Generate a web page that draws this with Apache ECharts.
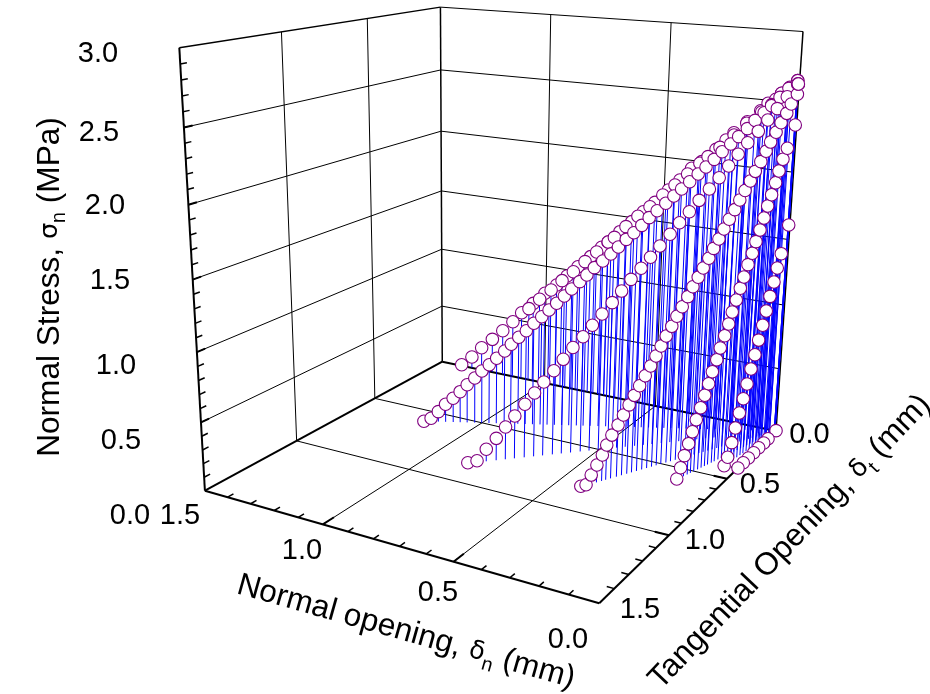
<!DOCTYPE html>
<html>
<head>
<meta charset="utf-8">
<script src="https://cdn.jsdelivr.net/npm/echarts@6/dist/echarts.min.js"></script>
<style>html,body{margin:0;padding:0;background:#fff}#main{width:930px;height:694px}</style>
</head>
<body>
<div id="main"></div>
<script>
// tick values
var snMajor = [0.5, 1, 1.5, 2, 2.5]
var snMinor = [0.1,0.2,0.3,0.4,0.6,0.7,0.8,0.9,1.1,1.2,1.3,1.4,1.6,1.7,1.8,1.9,2.1,2.2,2.3,2.4,2.6,2.7,2.8,2.9]
var openMajor = [0.5, 1]
var openMinor = [0.1,0.2,0.3,0.4,0.6,0.7,0.8,0.9,1.1,1.2,1.3,1.4]

// dt/dn = 0, first run: opening is dn
var pathAOpen = [1.402,1.351,1.303,1.251,1.201,1.153,1.112,1.058,1.005,.952,.906,.858,.803,.756,.729,.679,.630,.583,.536,.483,.438,.393,.354,.300,.263,.234,.185,.137,.111,.083,.063,.034,.007]
var pathASn = [.009,.098,.198,.291,.384,.479,.571,.669,.772,.858,.948,1.039,1.138,1.228,1.278,1.375,1.468,1.559,1.644,1.753,1.841,1.94,1.999,2.103,2.180,2.240,2.330,2.419,2.477,2.511,2.557,2.605,2.656]
// dt/dn = 0, second run
var pathBOpen = [1.078,1.029,.977,.928,.878,.827,.777,.728,.702,.654,.605,.556,.505,.457,.408,.361,.330,.285,.233,.187,.133,.097,.063,.033]
var pathBSn = [.617,.713,.808,.902,.992,1.090,1.184,1.279,1.323,1.422,1.517,1.605,1.709,1.798,1.893,1.985,2.042,2.121,2.223,2.318,2.41,2.47,2.557,2.598]
// dt/dn = 0.5
var pathCOpen = [1.200,1.175,1.150,1.125,1.099,1.075,1.051,1.025,1.001,.976,.951,.924,.902,.877,.852,.827,.801,.777,.752,.727,.703,.677,.654,.630,.603,.577,.553,.528,.504,.479,.456,.431,.404,.379,.355,.330,.304,.280,.255,.231,.205,.181,.155,.132,.105,.083,.058,.032,.006]
var pathCSn = [0,.026,.082,.144,.195,.250,.308,.364,.422,.474,.527,.587,.642,.699,.752,.812,.865,.919,.973,1.031,1.087,1.145,1.197,1.255,1.307,1.362,1.417,1.476,1.527,1.584,1.643,1.696,1.753,1.808,1.861,1.916,1.974,2.026,2.083,2.140,2.197,2.251,2.31,2.37,2.426,2.477,2.537,2.602,2.657]
// dt/dn = 1
var pathDOpen = [.849,.825,.801,.775,.751,.727,.701,.676,.652,.626,.602,.577,.551,.527,.502,.476,.452,.428,.402,.378,.354,.328,.304,.279,.254,.228,.203,.179,.155,.131,.104,.080,.056,.031,.005]
var pathDSn = [.004,.012,.093,.170,.250,.328,.410,.490,.567,.646,.726,.809,.884,.964,1.043,1.122,1.203,1.285,1.362,1.438,1.517,1.598,1.678,1.754,1.833,1.911,1.989,2.070,2.151,2.231,2.309,2.387,2.465,2.547,2.634]
// dn/dt = 0.5, opening is dt from here on
var pathEOpen = [.820,.800,.781,.760,.740,.724,.705,.682,.662,.641,.622,.602,.581,.561,.541,.522,.503,.482,.463,.443,.422,.403,.383,.364,.343,.325,.305,.286,.266,.245,.226,.206,.186,.167,.146,.126,.109,.088,.069,.047,.030,.006,.005]
var pathESn = [.005,.005,.067,.131,.195,.262,.326,.390,.454,.519,.581,.643,.707,.770,.835,.901,.966,1.029,1.095,1.157,1.223,1.288,1.350,1.411,1.474,1.540,1.601,1.668,1.732,1.795,1.859,1.922,1.985,2.049,2.113,2.182,2.244,2.309,2.373,2.435,2.498,2.562,2.635]
// dn/dt = 0.25
var pathFOpen = [.596,.577,.559,.538,.520,.501,.479,.459,.440,.422,.400,.383,.361,.341,.324,.304,.284,.266,.246,.224,.206,.186,.166,.148,.128,.108,.092,.072,.049,.009,.007]
var pathFSn = [.004,.077,.157,.234,.313,.392,.469,.551,.626,.706,.784,.862,.942,1.019,1.099,1.179,1.256,1.331,1.413,1.487,1.565,1.642,1.722,1.803,1.878,1.958,2.037,2.116,2.188,2.344,2.635]
// dn/dt = 0.125
var pathGOpen = [.401,.378,.353,.332,.308,.284,.262,.238,.214,.192,.167,.146,.124,.099,.080,.055,.010,.009]
var pathGSn = [0,.049,.145,.244,.344,.439,.538,.639,.734,.833,.932,1.029,1.129,1.225,1.322,1.418,1.614,2.636]
// dn = 0
var pathHOpen = [0,.087,.133,.186,.238,.292,.343,.395]
var pathHSn = [.003,0,0,.001,0,0,.001,0]

// [opening, stress, dn per opening, dt per opening]
var paths = [
    [pathAOpen, pathASn, 1, 0],
    [pathBOpen, pathBSn, 1, 0],
    [pathCOpen, pathCSn, 1, 0.5],
    [pathDOpen, pathDSn, 1, 1],
    [pathEOpen, pathESn, 0.5, 1],
    [pathFOpen, pathFSn, 0.25, 1],
    [pathGOpen, pathGSn, 0.125, 1],
    [pathHOpen, pathHSn, 0, 1]
]

// perspective projection, (dn, dt, sn) -> page position
function project(dn, dt, sn) {
    var u = dn / 1.5, v = dt / 1.5, w = sn / 3
    var W = 1 + 0.1321 * u - 0.2332 * v - 0.0802 * w
    return [(776 - 275.3 * u - 316.5 * v - 37.4 * w) / W, (431 - 21.5 * u + 31.6 * v - 402 * w) / W]
}

// box, grid lines and ticks
var frame = []
function seg(a, b, lw) { frame.push(a.concat(b).concat([lw])) }
seg([1.5,1.5,0],[0,1.5,0],2); seg([0,1.5,0],[0,0,0],2); seg([1.5,1.5,0],[1.5,0,0],2); seg([1.5,0,0],[0,0,0],2)
seg([1.5,1.5,0],[1.5,1.5,3],2); seg([1.5,0,0],[1.5,0,3],1.5); seg([0,0,0],[0,0,3],1.5)
seg([1.5,1.5,3],[1.5,0,3],1.5); seg([1.5,0,3],[0,0,3],1)
openMajor.forEach(function (t) {
    seg([t,1.5,0],[t,0,0],1); seg([1.5,t,0],[0,t,0],1)
    seg([1.5,t,0],[1.5,t,3],1); seg([t,0,0],[t,0,3],1)
    seg([t,1.5,0],[t,1.44,0],2); seg([0,t,0],[0.05,t,0],2)
})
snMajor.forEach(function (s) {
    seg([1.5,1.5,s],[1.5,0,s],1); seg([1.5,0,s],[0,0,s],1)
    seg([1.5,1.5,s],[1.5,1.46,s],2)
})
snMinor.forEach(function (s) { seg([1.5,1.5,s],[1.5,1.47,s],1.5) })
openMinor.forEach(function (t) {
    seg([t,1.5,0],[t,1.47,0],1.5); seg([0,t,0],[0.025,t,0],1.5)
})

var stems = [], marks = []
paths.forEach(function (p) {
    var pts = []
    p[0].forEach(function (o, i) {
        var dn = o * p[2], dt = o * p[3], sn = p[1][i]
        stems.push([dn, dt, 0, dn, dt, sn, 1])
        pts.push(project(dn, dt, sn))
    })
    marks.push(pts)
})

var axisLabels = [
    ['3.0',98,54],['2.5',99,133],['2.0',105,206],['1.5',110,281],['1.0',116,366],['0.5',121,441],['0.0',130,516],
    ['1.5',180,516],['1.0',302,551],['0.5',438,593],['0.0',568,640],
    ['0.0',809.5,435],['0.5',760,485],['1.0',705,541],['1.5',640,610]
]
var graphics = axisLabels.map(function (d) {
    return {type:'text',x:d[1],y:d[2],silent:true,style:{text:d[0],fontFamily:'Liberation Sans',fontSize:29,fill:'#000',textAlign:'center',textVerticalAlign:'middle'}}
})
function title(txt, x, y, rot, size) {
    graphics.push({type:'text',x:x,y:y,rotation:rot,silent:true,style:{text:txt,fontFamily:'Liberation Sans',fontSize:size,fill:'#000',textAlign:'center',textVerticalAlign:'middle',
        rich:{
            g:{fontFamily:'DejaVu Sans',fontSize:size - 6,lineHeight:40,fill:'#000'},
            b:{fontFamily:'Liberation Sans',fontSize:size,lineHeight:40,fill:'#000'},
            s:{fontFamily:'Liberation Sans',fontSize:size - 12,lineHeight:15,verticalAlign:'bottom',fill:'#000'}
        }}})
}
title('{b|Normal Stress, }{g|σ}{s|n}{b| (MPa)}', 50, 287, Math.PI / 2, 31.6)
title('{b|Normal opening, }{g|δ}{s|n}{b| (mm)}', 406, 632, -0.275, 31.6)
title('{b|Tangential Opening, }{g|δ}{s|t}{b| (mm)}', 790, 542, 0.81, 31.6)

function segItem(color) {
    return function (params, api) {
        var p = api.coord(project(api.value(0), api.value(1), api.value(2)))
        var q = api.coord(project(api.value(3), api.value(4), api.value(5)))
        return {type:'line',shape:{x1:p[0],y1:p[1],x2:q[0],y2:q[1]},style:{stroke:color,lineWidth:api.value(6)}}
    }
}
var series = [
    {type:'custom',name:'frame',renderItem:segItem('#000'),data:frame,silent:true,z:1,clip:false,encode:{x:0,y:1}},
    {type:'custom',name:'stems',renderItem:segItem('#0000ff'),data:stems,silent:true,z:2,clip:false,encode:{x:0,y:1}}
]
marks.forEach(function (pts, i) {
    series.push({type:'scatter',name:'path' + i,data:pts,symbolSize:12.5,silent:true,z:3,large:false,
        itemStyle:{color:'#fff',borderColor:'#800080',borderWidth:1.1,opacity:1}})
})

var chart = echarts.init(document.getElementById('main'))
chart.setOption({
    animation:false,
    grid:{left:0,right:0,top:0,bottom:0},
    xAxis:{type:'value',min:0,max:930,show:false},
    yAxis:{type:'value',min:0,max:694,inverse:true,show:false},
    graphic:graphics,
    series:series
})
</script>
</body>
</html>
